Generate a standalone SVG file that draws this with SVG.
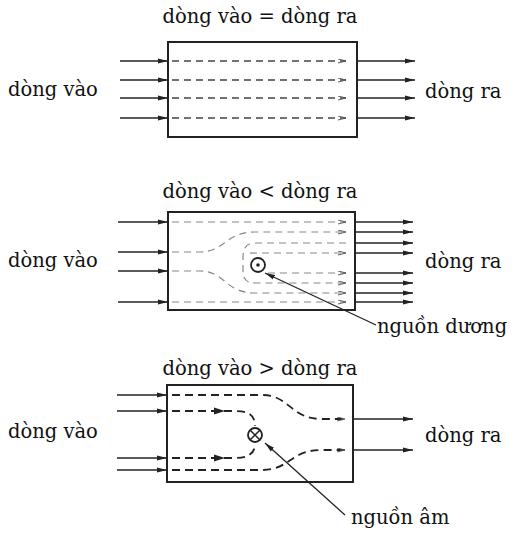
<svg xmlns="http://www.w3.org/2000/svg" width="518" height="535" viewBox="0 0 518 535">
<defs>
<marker id="ah" viewBox="0 0 10 6" refX="10" refY="3" markerWidth="10" markerHeight="6" markerUnits="userSpaceOnUse" orient="auto">
<path d="M0,0.5 L10,3 L0,5.5 Z" fill="#222"/>
</marker>
<marker id="ahd" viewBox="0 0 10 6" refX="10" refY="3" markerWidth="8" markerHeight="5" markerUnits="userSpaceOnUse" orient="auto">
<path d="M0,0.5 L10,3 L0,5.5" fill="none" stroke="#555" stroke-width="1.2"/>
</marker>
</defs>
<style>
text{font-family:"DejaVu Serif","Liberation Serif",serif;font-size:19.5px;fill:#111}
.box{fill:#fff;stroke:#222;stroke-width:2}
.ar{stroke:#222;stroke-width:1.4;fill:none;marker-end:url(#ah)}
.d1{stroke:#444;stroke-width:1.4;fill:none;stroke-dasharray:7,5;marker-end:url(#ahd)}
.d2{stroke:#888;stroke-width:1.2;fill:none;stroke-dasharray:7,5}
.d3{stroke:#222;stroke-width:1.8;fill:none;stroke-dasharray:8,5}
.lead{stroke:#222;stroke-width:1.3;fill:none;marker-end:url(#ah)}
.mid{fill:#222}
</style>

<g id="box1">
<text x="260" y="23" text-anchor="middle">dòng vào = dòng ra</text>
<rect class="box" x="168" y="42" width="189" height="95"/>
<text x="8" y="96">dòng vào</text>
<text x="425" y="98">dòng ra</text>
</g>
<g id="box2">
<text x="260" y="198" text-anchor="middle">dòng vào &lt; dòng ra</text>
<rect class="box" x="168" y="212" width="187" height="98"/>
<text x="8" y="267">dòng vào</text>
<text x="425" y="268">dòng ra</text>
<circle cx="258" cy="265" r="7" fill="#fff" stroke="#222" stroke-width="1.8"/>
<circle cx="258" cy="265" r="1.8" fill="#222"/>
<text x="377" y="333">nguồn dương</text>
</g>
<g id="box3">
<text x="260" y="375" text-anchor="middle">dòng vào &gt; dòng ra</text>
<rect class="box" x="167" y="385" width="186" height="97"/>
<text x="8" y="438">dòng vào</text>
<text x="425" y="442">dòng ra</text>
<circle cx="255" cy="435" r="7" fill="#fff" stroke="#222" stroke-width="1.8"/>
<path d="M250,430 L260,440 M260,430 L250,440" stroke="#222" stroke-width="1.5"/>
<text x="351" y="524">nguồn âm</text>
</g>

<g id="connectors">
<!-- diagram 1 -->
<path class="ar" d="M120,61 H168"/>
<path class="ar" d="M120,80 H168"/>
<path class="ar" d="M120,98 H168"/>
<path class="ar" d="M120,118 H168"/>
<path class="d1" d="M172,61 H346"/>
<path class="d1" d="M172,80 H346"/>
<path class="d1" d="M172,98 H346"/>
<path class="d1" d="M172,118 H346"/>
<path class="ar" d="M357,61 H415"/>
<path class="ar" d="M357,80 H415"/>
<path class="ar" d="M357,98 H415"/>
<path class="ar" d="M357,118 H415"/>

<!-- diagram 2 -->
<path class="ar" d="M118,222 H168"/>
<path class="ar" d="M118,252 H168"/>
<path class="ar" d="M118,271 H168"/>
<path class="ar" d="M118,302 H168"/>
<path class="d2" d="M172,222 H346" marker-end="url(#ahd)"/>
<path class="d2" d="M172,252 H200 C225,252 225,232 255,232 H346" marker-end="url(#ahd)"/>
<path class="d2" d="M346,243 H255 C245,243 243,250 243,258 V270 C243,278 245,283 255,283 H346" marker-end="url(#ahd)"/>
<path class="d2" d="M250,253 H346" marker-end="url(#ahd)"/>
<path class="d2" d="M268,273 H346" marker-end="url(#ahd)"/>
<path class="d2" d="M172,271 H200 C225,271 225,293 255,293 H346" marker-end="url(#ahd)"/>
<path class="d2" d="M172,302 H346" marker-end="url(#ahd)"/>
<path class="ar" d="M355,222 H413"/>
<path class="ar" d="M355,232 H413"/>
<path class="ar" d="M355,243 H413"/>
<path class="ar" d="M355,253 H413"/>
<path class="ar" d="M355,273 H413"/>
<path class="ar" d="M355,283 H413"/>
<path class="ar" d="M355,293 H413"/>
<path class="ar" d="M355,302 H413"/>
<path class="lead" d="M376,325 L265,273"/>

<!-- diagram 3 -->
<path class="ar" d="M117,395 H167"/>
<path class="ar" d="M117,411 H167"/>
<path class="ar" d="M117,458 H167"/>
<path class="ar" d="M117,470 H167"/>
<path class="d3" d="M172,395 H262 C290,395 290,419 322,419 H345" marker-end="url(#ahd)"/>
<path class="d3" d="M172,411 H235 C250,411 255,416 255,426"/>
<path class="d3" d="M172,458 H235 C250,458 255,452 255,444"/>
<path class="d3" d="M172,470 H262 C290,470 290,450 322,450 H345" marker-end="url(#ahd)"/>
<path class="mid" d="M214,407.5 L225,411 L214,414.5 Z"/>
<path class="mid" d="M214,454.5 L225,458 L214,461.5 Z"/>
<path class="ar" d="M353,419 H413"/>
<path class="ar" d="M353,450 H413"/>
<path class="lead" d="M345,515 L265,443"/>
</g>
</svg>
